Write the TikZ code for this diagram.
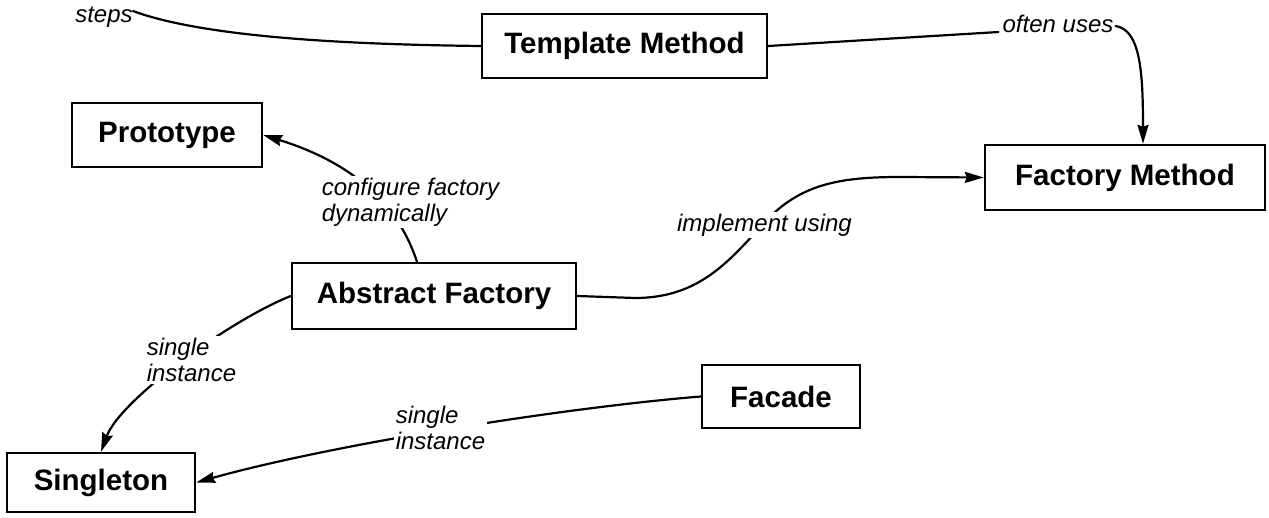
\documentclass[tikz,border=0pt]{standalone}
\usepackage{fontspec}
\setmainfont{Liberation Sans}
\usetikzlibrary{arrows.meta,calc}
\tikzset{
  box/.style={draw=black, line width=2.4pt, fill=white, inner sep=0pt,
    font=\bfseries\fontsize{29.5}{31}\selectfont},
  lbl/.style={fill=white, inner sep=2pt, align=left,
    font=\itshape\fontsize{24}{26}\selectfont},
  conn/.style={line width=2.2pt, line cap=round},
  arr/.style={conn, -{Stealth[length=19pt,width=11pt,inset=2pt]}}
}
\begin{document}
\begin{tikzpicture}[x=1pt,y=-1pt]
\fill[white] (0,0) rectangle (1269,518);
\useasboundingbox (0,0) rectangle (1269,518);

% boxes
\node[box, minimum width=285pt, minimum height=64pt] (tm) at (624.5,46) {Template Method};
\node[box, minimum width=280pt, minimum height=65pt] (fm) at (1125,177.5) {Factory Method};
\node[box, minimum width=190pt, minimum height=64pt] (proto) at (167,135) {Prototype};
\node[box, minimum width=284pt, minimum height=66pt] (af) at (434,296) {Abstract Factory};
\node[box, minimum width=158pt, minimum height=63pt] (facade) at (781,396.5) {Facade};
\node[box, minimum width=188pt, minimum height=59pt] (single) at (101,482.5) {Singleton};

% connector paths (drawn first, labels cover them)
\coordinate (afn) at ($(af.north)+(-17,0)$);
\coordinate (fmn) at ($(fm.north)+(18,0)$);

\node[lbl] (steps) at (104,17) {steps};
\node[lbl] (often) at (1058,24) {often uses};

\draw[conn] ($(steps.east)+(-2,-6)$) .. controls (190,32) and (300,44) .. (tm.west);
\draw[conn] (tm.east) -- ($(often.south west)+(-2,-3)$);
\draw[arr] ($(often.east)+(0,2)$) .. controls (1140,30) and (1143,70) .. (fmn);

\draw[arr] (afn) .. controls (400,210) and (360,165) .. (proto.east);
\draw[arr] (af.east) -- (635,298) .. controls (700,298) and (730,260) .. (765,222)
   .. controls (800,184) and (840,177) .. (900,177) -- (fm.west);
\draw[arr] (af.west) .. controls (230,320) and (120,400) .. (single.north);
\draw[arr] (facade.west) .. controls (560,408) and (330,445) .. (single.east);

% labels on top
\node[lbl] (cfg) at (410.5,202) {configure factory\\dynamically};
\node[lbl] (impl) at (764.5,225) {implement using};
\node[lbl] (si1) at (191.5,360) {single\\instance};
\node[lbl] (si2) at (440.5,428) {single\\instance};
\end{tikzpicture}
\end{document}
